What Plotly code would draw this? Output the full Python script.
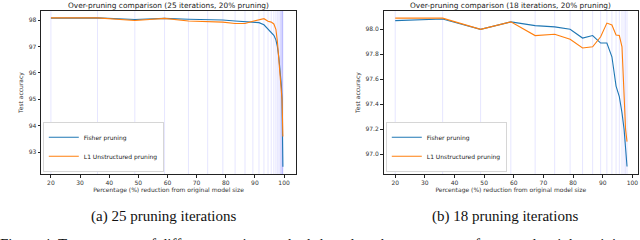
import plotly.graph_objects as go

# ---- data ----
x_a = [20.0, 36.0, 48.8, 59.0, 67.2, 73.8, 79.0, 83.2, 86.6, 89.3, 91.4, 93.1, 94.5,
       95.6, 96.5, 97.2, 97.7, 98.2, 98.6, 98.8, 99.1, 99.3, 99.4, 99.5, 99.6]
fisher_a = [98.07, 98.08, 98.02, 98.06, 98.03, 98.02, 98.00, 97.96, 97.94, 97.91, 97.90,
            97.82, 97.65, 97.52, 97.42, 97.25, 97.00, 96.60, 96.20, 95.90, 95.50, 95.00,
            94.50, 93.60, 92.45]
l1_a = [98.08, 98.08, 97.98, 98.06, 97.96, 97.95, 97.92, 97.87, 97.87, 97.95, 98.02,
        98.05, 97.95, 97.92, 97.85, 97.65, 97.20, 96.60, 96.10, 95.80, 95.40, 95.00,
        94.60, 94.10, 93.60]

x_b = [20.0, 36.0, 48.8, 59.0, 67.2, 73.8, 79.0, 83.2, 86.6, 89.3, 91.4, 93.1, 94.5,
       95.6, 96.5, 97.2, 97.7, 98.2]
fisher_b = [98.07, 98.083, 98.00, 98.06, 98.03, 98.02, 98.00, 97.93, 97.95, 97.89, 97.89,
            97.78, 97.545, 97.46, 97.33, 97.20, 97.05, 96.90]
l1_b = [98.09, 98.09, 98.00, 98.06, 97.95, 97.96, 97.92, 97.85, 97.86, 97.94, 98.05,
        98.035, 97.955, 97.95, 97.86, 97.45, 97.20, 97.10]

titles = ["Over-pruning comparison (25 iterations, 20% pruning)",
          "Over-pruning comparison (18 iterations, 20% pruning)"]
captions = ["(a) 25 pruning iterations", "(b) 18 pruning iterations"]
fig_caption = "Figure 4: Test accuracy of different pruning methods based on the percentage of removed weight training"
series_names = ["Fisher pruning", "L1 Unstructured pruning"]
x_ticks = [20, 30, 40, 50, 60, 70, 80, 90, 100]
y_ticks_a = [93, 94, 95, 96, 97, 98]
y_ticks_b = [97.0, 97.2, 97.4, 97.6, 97.8, 98.0]

W, H = 640, 240
BLUE, ORANGE = "#1f77b4", "#ff7f0e"
SANS = "DejaVu Sans"
SERIF = "Liberation Serif"

fig = go.Figure()

fig.add_trace(go.Scatter(x=x_a, y=fisher_a, mode="lines", name=series_names[0],
                         line=dict(color=BLUE, width=1.1), xaxis="x", yaxis="y", legend="legend"))
fig.add_trace(go.Scatter(x=x_a, y=l1_a, mode="lines", name=series_names[1],
                         line=dict(color=ORANGE, width=1.1), xaxis="x", yaxis="y", legend="legend"))
fig.add_trace(go.Scatter(x=x_b, y=fisher_b, mode="lines", name=series_names[0],
                         line=dict(color=BLUE, width=1.1), xaxis="x2", yaxis="y2", legend="legend2"))
fig.add_trace(go.Scatter(x=x_b, y=l1_b, mode="lines", name=series_names[1],
                         line=dict(color=ORANGE, width=1.1), xaxis="x2", yaxis="y2", legend="legend2"))

shapes = []
for xv in x_a:
    shapes.append(dict(type="line", xref="x", yref="y domain", x0=xv, x1=xv, y0=0, y1=1,
                       line=dict(color="rgba(0,0,255,0.1)", width=1), layer="below"))
for xv in x_b:
    shapes.append(dict(type="line", xref="x2", yref="y2 domain", x0=xv, x1=xv, y0=0, y1=1,
                       line=dict(color="rgba(0,0,255,0.1)", width=1), layer="below"))

def px_x(p):
    return p / W

def px_y(p):
    return 1 - p / H

dom_a = [px_x(41), px_x(296)]
dom_b = [px_x(383.5), px_x(638)]
dom_y = [px_y(174), px_y(11)]

axis_common = dict(showline=True, mirror=True, linecolor="#222", linewidth=1, ticks="outside",
                   ticklen=2.5, tickwidth=0.8, tickcolor="#222", showgrid=False, zeroline=False,
                   tickfont=dict(family=SANS, size=6, color="#333"))

ann = []
for i, dom in enumerate([dom_a, dom_b]):
    ann.append(dict(text=titles[i], x=(dom[0] + dom[1]) / 2, y=px_y(5), xref="paper", yref="paper",
                    showarrow=False, font=dict(family=SANS, size=7.4, color="#222"),
                    xanchor="center", yanchor="middle"))
ann.append(dict(text=captions[0], x=px_x(163.5), y=px_y(216), xref="paper", yref="paper",
                showarrow=False, font=dict(family=SERIF, size=15, color="#111"),
                xanchor="center", yanchor="middle"))
ann.append(dict(text=captions[1], x=px_x(505), y=px_y(216), xref="paper", yref="paper",
                showarrow=False, font=dict(family=SERIF, size=15, color="#111"),
                xanchor="center", yanchor="middle"))
ann.append(dict(text=fig_caption, x=px_x(-2), y=px_y(244), xref="paper", yref="paper",
                showarrow=False, font=dict(family=SERIF, size=15, color="#111"),
                xanchor="left", yanchor="middle"))

legend_common = dict(bgcolor="white", bordercolor="#ccc", borderwidth=0.8,
                     font=dict(family=SANS, size=6, color="#222"), xanchor="left", yanchor="bottom",
                     tracegroupgap=0, itemwidth=30)

fig.update_layout(
    width=W, height=H, margin=dict(l=0, r=0, t=0, b=0),
    paper_bgcolor="white", plot_bgcolor="white",
    shapes=shapes, annotations=ann,
    xaxis=dict(domain=dom_a, range=[16.6, 104.1], tickvals=x_ticks, anchor="y",
               title=dict(text="Percentage (%) reduction from original model size",
                          font=dict(family=SANS, size=6, color="#333"), standoff=2), **axis_common),
    yaxis=dict(domain=dom_y, range=[92.18, 98.34], tickvals=y_ticks_a, anchor="x",
               title=dict(text="Test accuracy", font=dict(family=SANS, size=6, color="#333"), standoff=4),
               **axis_common),
    xaxis2=dict(domain=dom_b, range=[16.05, 101.9], tickvals=x_ticks, anchor="y2",
                title=dict(text="Percentage (%) reduction from original model size",
                           font=dict(family=SANS, size=6, color="#333"), standoff=2), **axis_common),
    yaxis2=dict(domain=dom_y, range=[96.84, 98.147], tickvals=y_ticks_b, tickformat=".1f", anchor="x2",
                title=dict(text="Test accuracy", font=dict(family=SANS, size=6, color="#333"), standoff=4),
                **axis_common),
    legend=dict(x=px_x(43), y=px_y(172), **legend_common),
    legend2=dict(x=px_x(386), y=px_y(172), **legend_common),
    showlegend=True,
)

fig.write_html("out.html", config={"displayModeBar": False},
               post_script="document.body.style.margin='0';document.body.style.overflow='hidden';")
